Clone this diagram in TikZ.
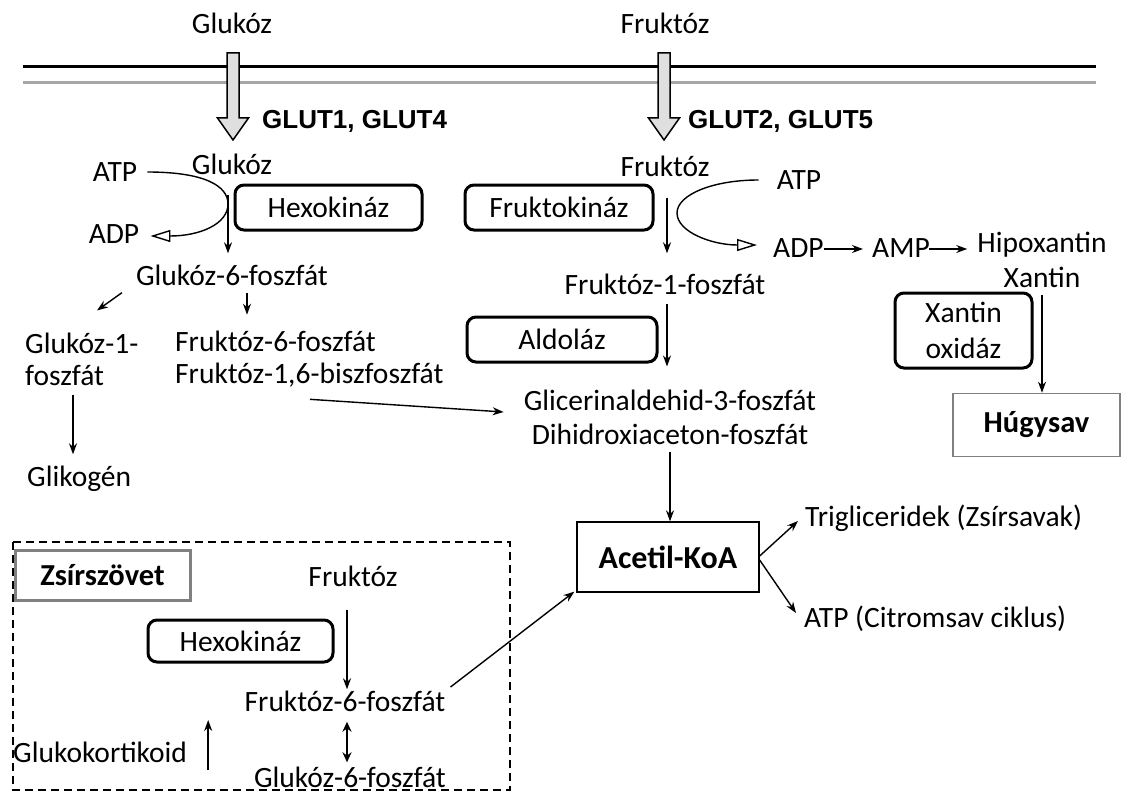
\documentclass[tikz,border=0pt]{standalone}
\usepackage{fontspec}
\setmainfont{Carlito}
\newfontfamily\arialfont{Liberation Sans}
\usetikzlibrary{arrows.meta,calc}
\begin{document}
\begin{tikzpicture}[x=1pt,y=-1pt,
  lbl/.style={inner sep=0pt, text height=21pt, text depth=6pt, font=\fontsize{29.5}{34}\selectfont},
  mlbl/.style={inner sep=0pt, font=\fontsize{29.5}{32}\selectfont},
  enz/.style={draw, line width=3pt, rounded corners=9pt, inner sep=0pt, font=\fontsize{29.5}{36}\selectfont},
  glut/.style={inner sep=0pt, font=\arialfont\bfseries\fontsize{26}{28}\selectfont},
  arr/.style={-{Stealth[length=11pt,width=8pt]}, line width=1.4pt},
  dblarr/.style={{Stealth[length=10pt,width=9pt]}-{Stealth[length=10pt,width=9pt]}, line width=2.2pt},
  openarr/.style={-{Triangle[open,length=20pt,width=12pt]}, line width=1.4pt},
  blockarr/.style={draw=black, fill=gray!25, line width=1.5pt, line join=miter},
  membrane/.style={line width=3pt},
  region/.style={draw, dashed, line width=1.5pt, dash pattern=on 8pt off 5pt}
]
\useasboundingbox[fill=white] (0,0) rectangle (1126,797);

% membrane
\draw[membrane, black] (23,67) -- (1096,67);
\draw[membrane, gray!70] (23,83) -- (1096,83);

% block arrows through membrane
\draw[blockarr] (227,53) -- (239,53) -- (239,118) -- (248.5,118) -- (233,140) -- (217.5,118) -- (227,118) -- cycle;
\draw[blockarr] (658,53) -- (670,53) -- (670,118) -- (679.5,118) -- (664,140) -- (648.5,118) -- (658,118) -- cycle;

% labels
\node[lbl] (glcT) at (232,26) {Glukóz};
\node[lbl] (fruT) at (665,26) {Fruktóz};
\node[glut, anchor=west] (glut14) at (262,121) {GLUT1, GLUT4};
\node[glut, anchor=west] (glut25) at (688,121) {GLUT2, GLUT5};

\node[lbl] (atpL) at (115,174) {ATP};
\node[lbl] (adpL) at (114,236) {ADP};
\node[lbl] (glc) at (232,167) {Glukóz};
\node[enz, minimum width=187pt, minimum height=45pt] (hexo1) at (328.5,207.5) {Hexokináz};
\node[lbl] (g6p) at (232,278) {Glukóz-6-foszfát};
\node[mlbl, align=left, anchor=west] (g1p) at (25,359) {Glukóz-1-\\foszfát};
\node[mlbl, align=left, anchor=west] (f6p) at (175,359) {Fruktóz-6-foszfát\\Fruktóz-1,6-biszfoszfát};
\node[lbl, anchor=west] (glik) at (27,479) {Glikogén};

\node[lbl] (fru) at (665,169) {Fruktóz};
\node[enz, minimum width=188pt, minimum height=45pt] (fkin) at (559,207.5) {Fruktokináz};
\node[lbl] (atpR) at (799,182) {ATP};
\node[lbl, anchor=west] (adpR) at (773,250) {ADP};
\node[lbl, anchor=west] (amp) at (872,250) {AMP};
\node[inner sep=0pt, align=center, font=\fontsize{29.5}{35}\selectfont] (hipo) at (1042,260) {Hipoxantin\\Xantin};
\node[lbl] (f1p) at (665,287) {Fruktóz-1-foszfát};
\node[enz, minimum width=190pt, minimum height=45pt] (aldo) at (562,339.5) {Aldoláz};
\node[inner sep=0pt, align=center, font=\fontsize{29.5}{34}\selectfont] (gap) at (670,417) {Glicerinaldehid-3-foszfát\\Dihidroxiaceton-foszfát};
\node[enz, minimum width=137pt, minimum height=75pt, align=center] (xo) at (963.5,330.5) {Xantin\\oxidáz};
\node[draw=gray, line width=1.6pt, minimum width=167pt, minimum height=63pt, inner sep=0pt, font=\bfseries\fontsize{30.5}{34}\selectfont] (hugy) at (1036.5,425) {Húgysav};

\node[draw=black, line width=1.3pt, minimum width=182pt, minimum height=70pt, inner sep=0pt, font=\bfseries\fontsize{32}{34}\selectfont] (acet) at (668,557) {Acetil-KoA};
\node[lbl, anchor=west] (trig) at (805,519) {Trigliceridek (Zsírsavak)};
\node[lbl, anchor=west] (atpc) at (804,620) {ATP (Citromsav ciklus)};

% adipose tissue region
\draw[region] (13,542) rectangle (510,790);
\node[draw=gray, line width=3pt, minimum width=175pt, minimum height=50pt, inner sep=0pt, fill=white, font=\bfseries\fontsize{30.5}{34}\selectfont] (zsir) at (102.5,575) {Zsírszövet};
\node[lbl] (fru2) at (353,579) {Fruktóz};
\node[enz, minimum width=185pt, minimum height=42pt] (hexo2) at (240.5,641) {Hexokináz};
\node[lbl] (f6p2) at (345,704) {Fruktóz-6-foszfát};
\node[lbl] (g6p2) at (350,780) {Glukóz-6-foszfát};
\node[lbl, anchor=west] (gluko) at (13,755) {Glukokortikoid};

% ATP/ADP curves
\coordinate (bendL) at (228,204);
\draw[openarr] ($(atpL.east)+(10,-2)$) .. controls (205,172) and (228,186) .. (bendL) .. controls (228,224) and (200,236) .. ($(adpL.east)+(11,0)$);
\coordinate (bendR) at (677,213);
\draw[openarr] ($(atpR.west)+(-18,-2)$) .. controls (712,180) and (677,195) .. (bendR) .. controls (677,232) and (712,245) .. ($(adpR.west)+(-16,-5)$);

% connectors
\draw[arr] ($(glc.south)+(-4,14)$) -- ($(g6p.north)+(-4,-11)$);
\draw[arr] ($(g6p.south west)+(-14,1)$) -- ($(g1p.north west)+(72,-22)$);
\draw[arr] ($(g6p.south)+(15,1)$) -- ($(f6p.north west)+(72,-16)$);
\draw[arr] ($(f6p.south west)+(135,12)$) -- ($(gap.west)+(-20,-5)$);
\draw[arr] ($(g1p.south west)+(48,9)$) -- ($(glik.north west)+(46,-11)$);
\draw[arr] ($(fru.south)+(2,15)$) -- ($(f1p.north)+(2,-20)$);
\draw[arr] ($(f1p.south)+(2,3)$) -- ($(gap.north)+(-3,-23)$);
\draw[arr] ($(gap.south)+(0,7)$) -- (gap.south |- acet.north);
\draw[arr] ($(adpR.east)+(0,-1)$) -- ($(amp.west)+(-9,-1)$);
\draw[arr] ($(amp.east)+(-1,-1)$) -- ($(amp.east -| hipo.west)+(-10,-1)$);
\draw[arr] ($(hipo.south)+(0,7)$) -- (hipo.south |- hugy.north);
\draw[arr] ($(acet.east)+(0,-1)$) -- ($(trig.west)+(-7,2)$);
\draw[arr] ($(acet.east)+(0,3)$) -- ($(atpc.west)+(-8,-7)$);
\draw[arr] ($(fru2.south)+(-6,17)$) -- ($(f6p2.north)+(2,-1)$);
\draw[dblarr] ($(f6p2.south)+(2,4)$) -- ($(g6p2.north)+(-3,-4)$);
\draw[arr] ($(f6p2.east)+(5,-17)$) -- ($(acet.south west)+(-2,-1)$);
\draw[arr] ($(gluko.east)+(21,15)$) -- ($(gluko.east)+(21,-35)$);
\end{tikzpicture}
\end{document}
